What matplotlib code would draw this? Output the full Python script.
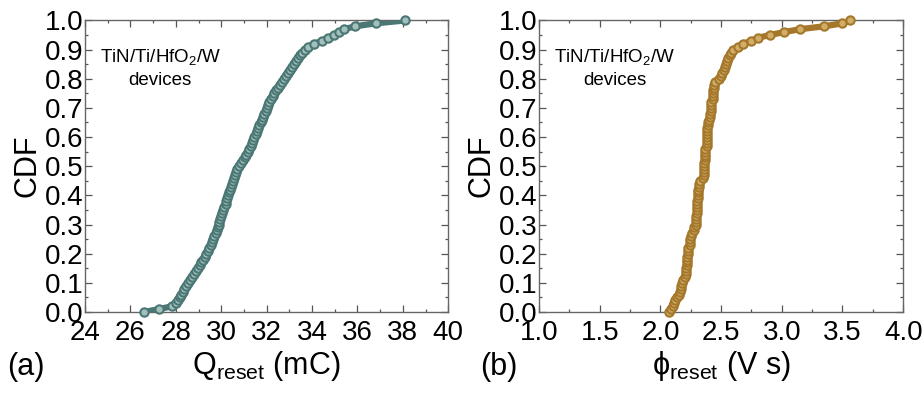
import numpy as np
import matplotlib
matplotlib.use("Agg")
import matplotlib.pyplot as plt
from matplotlib.ticker import MultipleLocator, FormatStrFormatter

plt.rcParams['font.family'] = ['Liberation Sans', 'DejaVu Sans']
plt.rcParams['mathtext.fontset'] = 'custom'
plt.rcParams['mathtext.rm'] = 'Liberation Sans'
plt.rcParams['mathtext.it'] = 'Liberation Sans'

# sorted Q_reset values (mC), read at CDF steps of 0.01
q_reset = [26.6, 27.25, 27.85, 28.0, 28.1, 28.17, 28.24, 28.3, 28.37, 28.46,
           28.55, 28.63, 28.71, 28.8, 28.89, 28.97, 29.05, 29.13, 29.2, 29.27,
           29.35, 29.42, 29.48, 29.55, 29.6, 29.63, 29.69, 29.75, 29.8, 29.84,
           29.88, 29.92, 29.96, 30.0, 30.05, 30.09, 30.14, 30.19, 30.23, 30.27,
           30.31, 30.35, 30.39, 30.43, 30.47, 30.51, 30.56, 30.6, 30.65, 30.71,
           30.78, 30.86, 30.96, 31.04, 31.1, 31.17, 31.24, 31.3, 31.36, 31.41,
           31.46, 31.51, 31.56, 31.62, 31.68, 31.74, 31.79, 31.84, 31.9, 31.96,
           32.02, 32.07, 32.12, 32.18, 32.26, 32.34, 32.42, 32.52, 32.61, 32.69,
           32.77, 32.85, 32.93, 33.01, 33.1, 33.2, 33.28, 33.37, 33.47, 33.57,
           33.68, 33.82, 34.1, 34.42, 34.7, 34.95, 35.2, 35.42, 35.9, 36.8, 38.1]

# sorted phi_reset values (V s), read at CDF steps of 0.01
phi_reset = [2.07, 2.09, 2.10, 2.11, 2.12, 2.14, 2.15, 2.16, 2.17, 2.17,
             2.18, 2.19, 2.20, 2.21, 2.21, 2.21, 2.22, 2.22, 2.22, 2.22,
             2.23, 2.23, 2.23, 2.24, 2.24, 2.24, 2.25, 2.26, 2.28, 2.28,
             2.29, 2.29, 2.29, 2.29, 2.30, 2.30, 2.30, 2.30, 2.30, 2.31,
             2.31, 2.31, 2.31, 2.32, 2.32, 2.33, 2.35, 2.36, 2.36, 2.36,
             2.36, 2.36, 2.37, 2.37, 2.37, 2.37, 2.37, 2.38, 2.38, 2.38,
             2.38, 2.38, 2.38, 2.38, 2.39, 2.39, 2.40, 2.41, 2.41, 2.42,
             2.42, 2.42, 2.42, 2.43, 2.43, 2.43, 2.43, 2.44, 2.44, 2.45,
             2.48, 2.50, 2.51, 2.52, 2.53, 2.54, 2.55, 2.56, 2.57, 2.58,
             2.60, 2.64, 2.68, 2.75, 2.80, 2.90, 3.02, 3.15, 3.35, 3.50, 3.56]

teal = '#4a7774'
brown = '#a4772a'

fig = plt.figure(figsize=(9.22, 3.93), dpi=100)
ax1 = fig.add_axes([0.0922, 0.206, 0.394, 0.742])
ax2 = fig.add_axes([0.5846, 0.206, 0.395, 0.742])


def cdf_panel(ax, vals, color, face, xlim, xmaj, xmin, xlabel, tag, tag_x):
    x = np.sort(np.array(vals))
    y = np.arange(len(x)) / (len(x) - 1)
    # thicker band behind the markers (original points overlap into a band)
    ax.plot(x, y, '-', color=color, lw=4.5, solid_capstyle='round',
            solid_joinstyle='round', zorder=2)
    ax.plot(x, y, '-o', color=color, lw=1.3, ms=6, mfc=face, mec=color,
            mew=1.5, clip_on=False, zorder=3)
    ax.set_xlim(*xlim)
    ax.set_ylim(0, 1)
    ax.xaxis.set_major_locator(MultipleLocator(xmaj))
    ax.xaxis.set_minor_locator(MultipleLocator(xmin))
    ax.yaxis.set_major_locator(MultipleLocator(0.1))
    ax.yaxis.set_minor_locator(MultipleLocator(0.05))
    ax.yaxis.set_major_formatter(FormatStrFormatter('%.1f'))
    ax.tick_params(which='both', direction='in', top=True, right=True,
                   color='#555555', width=0.9)
    ax.tick_params(which='major', length=5, labelsize=20)
    ax.tick_params(axis='y', which='major', pad=1)
    ax.tick_params(axis='x', which='major', pad=6)
    ax.tick_params(which='minor', length=2.5)
    for s in ax.spines.values():
        s.set_color('#666666')
        s.set_linewidth(1.0)
    ax.set_ylabel('CDF', fontsize=22, labelpad=2)
    ax.set_xlabel(xlabel, fontsize=22, labelpad=2)
    ax.text(0.207, 0.873, 'TiN/Ti/HfO$_2$/W', transform=ax.transAxes,
            ha='center', va='center', fontsize=13.5)
    ax.text(0.207, 0.795, 'devices', transform=ax.transAxes,
            ha='center', va='center', fontsize=13.5)
    fig.text(tag_x, 0.066, tag, fontsize=22, ha='left', va='center')


cdf_panel(ax1, q_reset, teal, '#a3c0bd', (24, 40), 2, 1,
          'Q$_\\mathregular{reset}$ (mC)', '(a)', 0.008)
cdf_panel(ax2, phi_reset, brown, '#d2ad68', (1.0, 4.0), 0.5, 0.25,
          'ϕ$_\\mathregular{reset}$ (V s)', '(b)', 0.521)
ax2.xaxis.set_major_formatter(FormatStrFormatter('%.1f'))

fig.savefig('out.png', dpi=100)
